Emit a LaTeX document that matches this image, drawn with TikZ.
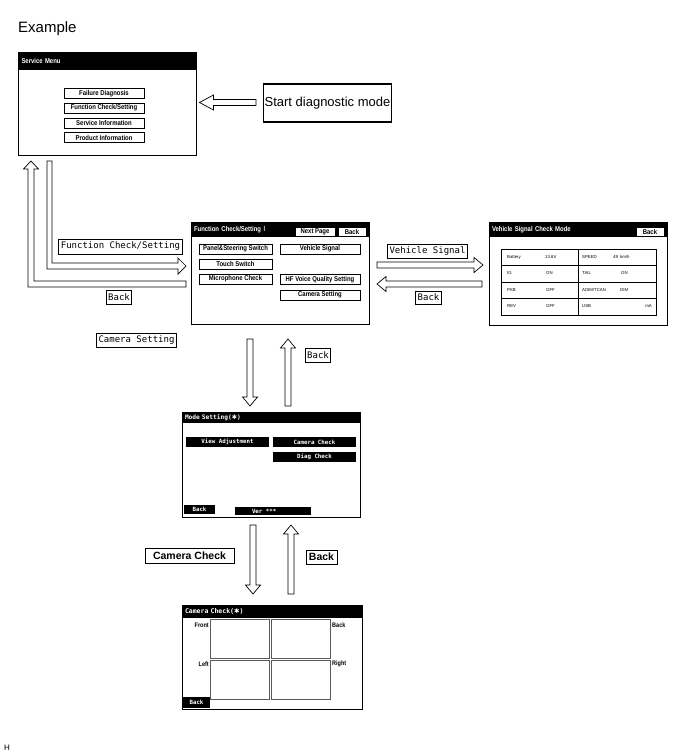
\documentclass[tikz,border=0pt]{standalone}
\usepackage{fontspec}
\setmainfont{Liberation Sans}
\newfontfamily\scrfont[FakeStretch=0.85]{Liberation Sans}
\newfontfamily\gothfont{DejaVu Sans Mono}
\newfontfamily\symfont{DejaVu Sans}
\usetikzlibrary{calc,positioning}

% hollow block arrow from #2 to #3, head length #1
\newcommand{\hollowarrow}[3][9pt]{%
  \coordinate (ha) at ($(#3)!#1!(#2)$);
  \draw[blockarrow] ($(#2)!3pt!90:(#3)$) -- ($(ha)!3pt!90:(#3)$) -- ($(ha)!7.5pt!90:(#3)$) -- (#3)
    -- ($(ha)!7.5pt!-90:(#3)$) -- ($(ha)!3pt!-90:(#3)$) -- ($(#2)!3pt!-90:(#3)$) -- cycle;}

\begin{document}
\begin{tikzpicture}[x=1pt, y=-1pt,
    screen/.style={draw, line width=0.9pt, minimum width=178pt, inner sep=0pt, outer sep=0pt},
    bar/.style={fill=black, text=white, anchor=north west, inner ysep=0pt, inner xsep=3pt, outer sep=0pt, align=left, font=\scrfont\bfseries\fontsize{7}{8}\selectfont},
    btn/.style={draw, line width=0.5pt, minimum height=10pt, inner sep=0pt, font=\scrfont\bfseries\fontsize{7}{8}\selectfont},
    blk/.style={fill=black, text=white, minimum height=10pt, inner sep=0pt, font=\gothfont\bfseries\fontsize{5.8}{7}\selectfont},
    tagbox/.style={draw, line width=0.9pt, minimum height=14pt, inner xsep=2pt, inner ysep=0pt, font=\gothfont\fontsize{9}{10}\selectfont},
    boldtag/.style={tagbox, font=\bfseries\fontsize{10.5}{12}\selectfont},
    cell/.style={anchor=west, inner sep=0pt, font=\fontsize{4.3}{5}\selectfont},
    side/.style={inner sep=0pt, font=\scrfont\bfseries\fontsize{6.5}{7}\selectfont},
    cam/.style={draw, line width=1pt, gray!70!black, minimum width=58.5pt, minimum height=39.5pt, inner sep=0pt},
    blockarrow/.style={draw, line width=0.7pt, fill=white}
]
\useasboundingbox (0,0) rectangle (688,755);

\node[anchor=base west, inner sep=0pt, font=\fontsize{15}{18}\selectfont] (title) at (18,32) {Example};

% Service menu
\node[screen, minimum height=103pt] (svc) at (107.5,103.5) {};
\node[bar, minimum height=18pt, text width=171pt] at (svc.north west) {Service Menu};
\node[btn, minimum width=80pt] (fd) at (104,93.5) {Failure Diagnosis};
\node[btn, minimum width=80pt, below=4.2pt of fd] (fc) {Function Check/Setting};
\node[btn, minimum width=80pt, below=4.2pt of fc] (si) {Service Information};
\node[btn, minimum width=80pt, below=4.2pt of si] (pi) {Product Information};

\node[draw, line width=1.1pt, minimum width=127pt, minimum height=38pt, inner sep=1pt, font=\fontsize{13}{15}\selectfont] (start) at (327.5,103) {Start diagnostic mode};
\coordinate (a1) at ($(start.west)+(-7,-0.5)$);
\coordinate (a2) at ($(svc.east)+(3,-1)$);
\hollowarrow[14pt]{a1}{a2}

% Function check screen
\node[screen, minimum height=102pt] (fcs) at (280,273) {};
\node[bar, minimum height=15pt, text width=172pt] at (fcs.north west) {Function Check/Setting {\symfont\mdseries Ⅰ}};
\node[btn, fill=white, minimum width=40pt, minimum height=9pt] (next) at (315,231.5) {Next Page};
\node[btn, fill=white, minimum width=28pt, minimum height=9pt] (fback) at (352,231.5) {Back};
\node[btn, minimum width=73pt] (pss) at (235.5,249) {Panel\&Steering Switch};
\node[btn, minimum width=73pt] (ts) at (235.5,264) {Touch Switch};
\node[btn, minimum width=73pt] (mc) at (235.5,279) {Microphone Check};
\node[btn, minimum width=80pt] (vs) at (320,249) {Vehicle Signal};
\node[btn, minimum width=80pt] (hf) at (320,279.5) {HF Voice Quality Setting};
\node[btn, minimum width=80pt] (cs) at (320,295) {Camera Setting};

% Service menu <-> function check
\draw[blockarrow] (47,161) -- (52,161) -- (52,263) -- (178,263) -- (178,258) -- (186,266)
  -- (178,274) -- (178,269) -- (47,269) -- cycle;
\draw[blockarrow] (186,281) -- (34,281) -- (34,169) -- (38.5,169) -- (31,161) -- (23.5,169)
  -- (28,169) -- (28,287) -- (186,287) -- cycle;
\node[tagbox, minimum height=15pt] (lfc) at (120.5,246.5) {Function Check/Setting};
\node[tagbox] (lback1) at (119,297) {Back};

% Vehicle signal screen
\node[screen, minimum height=103pt] (vsc) at (578,273.5) {};
\node[bar, minimum height=15pt, text width=172pt] at (vsc.north west) {Vehicle Signal Check Mode};
\node[btn, fill=white, minimum width=28pt, minimum height=9pt] (vback) at (650,231.5) {Back};
\node[draw, line width=0.5pt, minimum width=155pt, minimum height=66pt, inner sep=0pt] (tbl) at (578.5,282) {};
\foreach \y in {265.5,282,298.5}
  \draw[line width=0.4pt] (tbl.west |- 0,\y) -- (tbl.east |- 0,\y);
\draw[line width=0.5pt] (tbl.north) -- (tbl.south);
\node[cell] at (507,257) {Battery};   \node[cell] at (545,257) {13.6V};
\node[cell] at (582,257) {SPEED};     \node[cell] at (613,257) {49\enspace km/h};
\node[cell] at (507,273.5) {IG};      \node[cell] at (546,273.5) {ON};
\node[cell] at (582,273.5) {TAIL};    \node[cell] at (621,273.5) {ON};
\node[cell] at (507,290) {PKB};       \node[cell] at (546,290) {OFF};
\node[cell] at (582,290) {ADIM/TCAN}; \node[cell] at (620,290) {DIM};
\node[cell] at (507,306.5) {REV};     \node[cell] at (546,306.5) {OFF};
\node[cell] at (582,306.5) {USB};     \node[cell, anchor=east] at (652,306.5) {mA};

% Function check <-> vehicle signal
\coordinate (b1) at ($(fcs.east)+(8,-8)$);
\coordinate (b2) at ($(vsc.west)+(-6,-8.5)$);
\coordinate (b3) at ($(vsc.west)+(-7,10.5)$);
\coordinate (b4) at ($(fcs.east)+(8,11)$);
\hollowarrow{b1}{b2}
\hollowarrow{b3}{b4}
\node[tagbox] (lvs) at (427.5,251) {Vehicle Signal};
\node[tagbox, minimum height=13pt] (lback2) at (428.5,297.5) {Back};

% Mode setting screen
\node[screen, minimum height=105pt] (msc) at (271,464.5) {};
\node[bar, minimum height=11pt, text width=172pt, font=\gothfont\bfseries\fontsize{6.2}{7}\selectfont] at (msc.north west) {Mode Setting({\symfont ✱})};
\node[blk, minimum width=83pt] (va) at (227.5,442) {View Adjustment};
\node[blk, minimum width=83pt] (cc) at (314.5,442) {Camera Check};
\node[blk, minimum width=83pt] (dc) at (314.5,457) {Diag Check};
\node[blk, minimum width=31pt, minimum height=9pt] (mback) at (199.5,509.5) {Back};
\node[blk, minimum width=76pt, minimum height=8pt] (ver) at (273,511) {};
\node[blk, fill=none, anchor=west] at ($(ver.west)+(17,0)$) {Ver ***};

\coordinate (c1) at ($(fcs.south)+(-30,15)$);
\coordinate (c2) at ($(msc.north)+(-21,-6)$);
\coordinate (c3) at ($(msc.north)+(17,-6)$);
\coordinate (c4) at ($(fcs.south)+(8,15)$);
\hollowarrow{c1}{c2}
\hollowarrow{c3}{c4}
\node[tagbox] (lcs) at (136.5,340) {Camera Setting};
\node[tagbox] (lback3) at (318,355) {Back};

% Camera check screen
\node[screen, minimum width=180pt, minimum height=104pt] (csc) at (272,657) {};
\node[bar, minimum height=13pt, text width=174pt, font=\gothfont\bfseries\fontsize{6.5}{7}\selectfont] at (csc.north west) {Camera Check({\symfont ✱})};
\node[cam] (front) at (240.2,639) {};
\node[cam] (rear) at (301.2,639) {};
\node[cam] (left) at (240.2,679.8) {};
\node[cam] (right) at (301.2,679.8) {};
\node[side, anchor=east] at (209,625) {Front};
\node[side, anchor=east] at (209,664) {Left};
\node[side, anchor=west] at (332,625) {Back};
\node[side, anchor=west] at (332,664) {Right};
\node[blk, minimum width=27pt, minimum height=11pt] (cback) at (196.5,702.5) {Back};

\coordinate (d1) at ($(msc.south)+(-18,8)$);
\coordinate (d2) at ($(csc.north)+(-19,-11)$);
\coordinate (d3) at ($(csc.north)+(19,-11)$);
\coordinate (d4) at ($(msc.south)+(20,8)$);
\hollowarrow{d1}{d2}
\hollowarrow{d3}{d4}
\node[boldtag, minimum width=89pt, minimum height=15pt] (lcc) at (189.5,555.5) {Camera Check};
\node[boldtag, minimum width=31pt] (lback4) at (321.5,557) {Back};

\node[anchor=base west, inner sep=0pt, font=\fontsize{8}{9}\selectfont] (h) at (4,750) {H};
\end{tikzpicture}
\end{document}
